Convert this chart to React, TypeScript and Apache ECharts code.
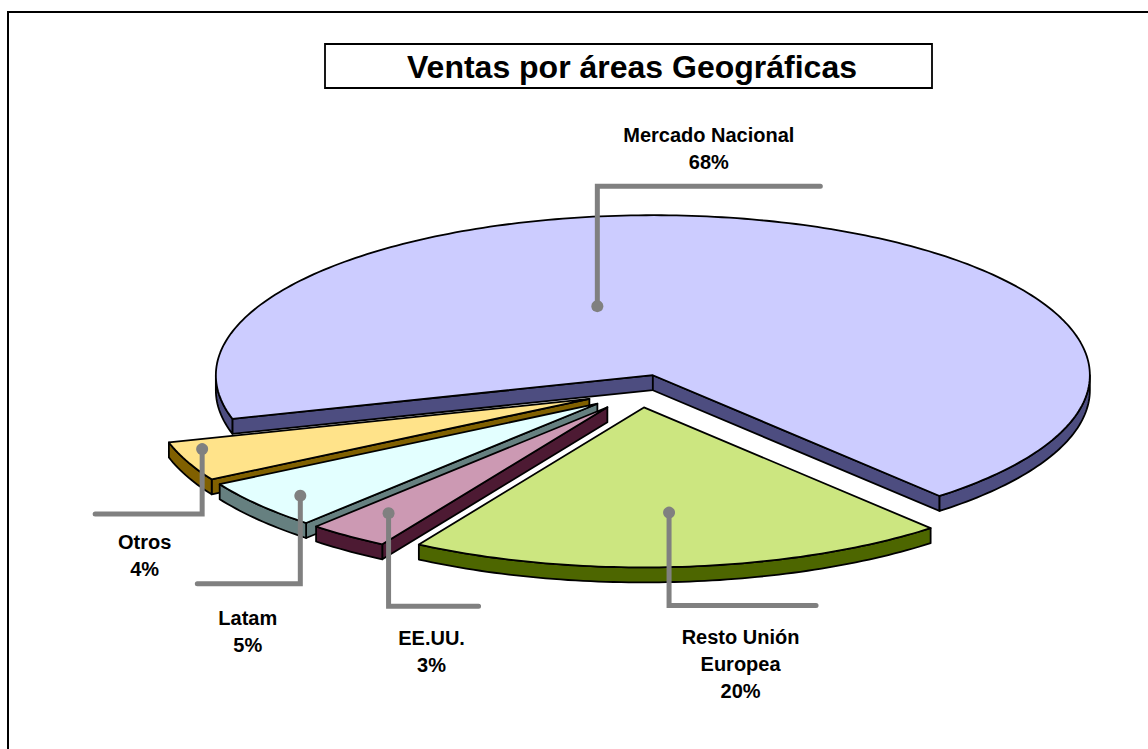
import React, { useEffect, useRef } from 'react';
import * as echarts from 'echarts';

// ---- data ----
const CATEGORIES = ['Mercado Nacional', 'Resto Unión Europea', 'EE.UU.', 'Latam', 'Otros'];
const LABEL_NAMES = ['Mercado Nacional', 'Resto Unión\nEuropea', 'EE.UU.', 'Latam', 'Otros'];
const VALUES = [68, 20, 3, 5, 4];
const TITLE = 'Ventas por áreas Geográficas';

// ---- styles / geometry (not data) ----
const TOP_COLORS = ['#CCCCFF', '#CCE680', '#CC99B3', '#E3FFFF', '#FFE38A'];
const SIDE_COLORS = ['#4D4D80', '#4D6600', '#4D1A33', '#668080', '#806000'];
const DRAW_ORDER = [0, 4, 3, 2, 1];
const CENTER = [640, 391];
const RX = 437;
const RY = 160;
const DEPTH = 15;
const EXPLODE = [45, 45, 55, 55, 55];
const START_ANGLE = 164.2; // screen degrees, clockwise from east
const LABEL_LAYOUT = [
  { shift: -33, frac: 0.45, leg: -120, run: 223, textDy: -11, textDx: 0 },
  { shift: 0, frac: 0.66, leg: 93, run: 147, textDy: 18, textDx: -2 },
  { shift: 0.7, frac: 0.83, leg: 93, run: 90, textDy: 18, textDx: -2 },
  { shift: -1, frac: 0.89, leg: 88, run: -103, textDy: 21, textDx: -1 },
  { shift: 3.5, frac: 0.94, leg: 65, run: -107, textDy: 14, textDx: -4 },
];
const FONT = '"Liberation Sans", Arial, Helvetica, sans-serif';

const TOTAL = VALUES.reduce((a, b) => a + b, 0);
const D2R = Math.PI / 180;

function sliceGeom(i: number) {
  let cum = 0;
  for (let k = 0; k < i; k++) cum += VALUES[k];
  const a0 = (START_ANGLE + (360 * cum) / TOTAL) * D2R;
  const a1 = a0 + ((360 * VALUES[i]) / TOTAL) * D2R;
  const mid = (a0 + a1) / 2;
  const e = EXPLODE[i];
  const apex = [CENTER[0] + e * Math.cos(mid), CENTER[1] + e * (RY / RX) * Math.sin(mid)];
  return { a0, a1, mid, apex };
}

function rim(apex: number[], t: number, dy = 0) {
  return [apex[0] + RX * Math.cos(t), apex[1] + RY * Math.sin(t) + dy];
}

function arc(apex: number[], s: number, e: number, dy = 0) {
  const pts: number[][] = [];
  const n = Math.max(2, Math.ceil((e - s) / D2R));
  for (let k = 0; k <= n; k++) pts.push(rim(apex, s + ((e - s) * k) / n, dy));
  return pts;
}

const EDGE = { stroke: '#000', lineWidth: 1.8, lineJoin: 'round' };

function renderSlice(_params: any, api: any) {
  const i = api.value(0) as number;
  const { a0, a1, apex } = sliceGeom(i);
  const children: any[] = [];
  const side = { ...EDGE, fill: SIDE_COLORS[i] };
  const wall = (t: number) => {
    const p = rim(apex, t);
    return {
      type: 'polygon',
      shape: { points: [apex, p, [p[0], p[1] + DEPTH], [apex[0], apex[1] + DEPTH]] },
      style: side,
    };
  };
  if (Math.cos(a0) < 0) children.push(wall(a0));
  if (Math.cos(a1) > 0) children.push(wall(a1));
  for (let k = -2; k <= 4; k += 2) {
    const s = Math.max(a0, k * Math.PI);
    const e = Math.min(a1, (k + 1) * Math.PI);
    if (e > s) {
      const topPts = arc(apex, s, e);
      const botPts = arc(apex, s, e, DEPTH).reverse();
      children.push({ type: 'polygon', shape: { points: topPts.concat(botPts) }, style: side });
    }
  }
  children.push({
    type: 'polygon',
    shape: { points: [apex].concat(arc(apex, a0, a1)) },
    style: { ...EDGE, fill: TOP_COLORS[i] },
  });
  return { type: 'group', children };
}

function renderLabel(_params: any, api: any) {
  const i = api.value(0) as number;
  const { mid, apex } = sliceGeom(i);
  const L = LABEL_LAYOUT[i];
  const t = mid + L.shift * D2R;
  const dot = [apex[0] + RX * L.frac * Math.cos(t), apex[1] + RY * L.frac * Math.sin(t)];
  const corner = [dot[0], dot[1] + L.leg];
  const end = [corner[0] + L.run, corner[1]];
  const pct = Math.round((VALUES[i] / TOTAL) * 100) + '%';
  const above = L.leg < 0;
  return {
    type: 'group',
    children: [
      {
        type: 'polyline',
        shape: { points: [dot, corner, end] },
        style: { stroke: '#808080', lineWidth: 5, fill: null, lineCap: 'round', lineJoin: 'miter' },
      },
      { type: 'circle', shape: { cx: dot[0], cy: dot[1], r: 6 }, style: { fill: '#808080' } },
      {
        type: 'text',
        x: (corner[0] + end[0]) / 2 + L.textDx,
        y: corner[1] + L.textDy,
        style: {
          text: LABEL_NAMES[i] + '\n' + pct,
          fill: '#000',
          fontFamily: FONT,
          fontWeight: 'bold',
          fontSize: 20,
          lineHeight: 27,
          align: 'center',
          verticalAlign: above ? 'bottom' : 'top',
        },
      },
    ],
  };
}

export default function App() {
  const ref = useRef<HTMLDivElement>(null);
  useEffect(() => {
    if (!ref.current) return;
    const chart = echarts.init(ref.current, null, { renderer: 'svg' });
    chart.setOption({
      animation: false,
      backgroundColor: '#ffffff',
      graphic: [
        {
          type: 'rect',
          shape: { x: 8, y: 12, width: 1170, height: 770 },
          style: { fill: 'none', stroke: '#000', lineWidth: 2 },
          z: 0,
        },
        {
          type: 'rect',
          shape: { x: 325, y: 44, width: 607, height: 44 },
          style: { fill: '#fff', stroke: '#000', lineWidth: 1.8 },
          z: 1,
        },
        {
          type: 'text',
          x: 632,
          y: 67,
          style: {
            text: TITLE,
            fill: '#000',
            fontFamily: FONT,
            fontWeight: 'bold',
            fontSize: 32,
            align: 'center',
            verticalAlign: 'middle',
          },
          z: 2,
        },
      ],
      series: [
        {
          type: 'custom',
          name: 'Ventas',
          coordinateSystem: 'none',
          renderItem: renderSlice,
          data: DRAW_ORDER.map((i) => ({ name: CATEGORIES[i], value: [i, VALUES[i]] })),
          silent: true,
          z: 2,
        },
        {
          type: 'custom',
          name: 'Etiquetas',
          coordinateSystem: 'none',
          renderItem: renderLabel,
          data: DRAW_ORDER.map((i) => ({ name: CATEGORIES[i], value: [i, VALUES[i]] })),
          silent: true,
          z: 3,
        },
      ],
    });
    return () => chart.dispose();
  }, []);
  return (
    <div
      ref={ref}
      style={{ position: 'fixed', left: 0, top: 0, width: 1148, height: 749, background: '#fff' }}
    />
  );
}
